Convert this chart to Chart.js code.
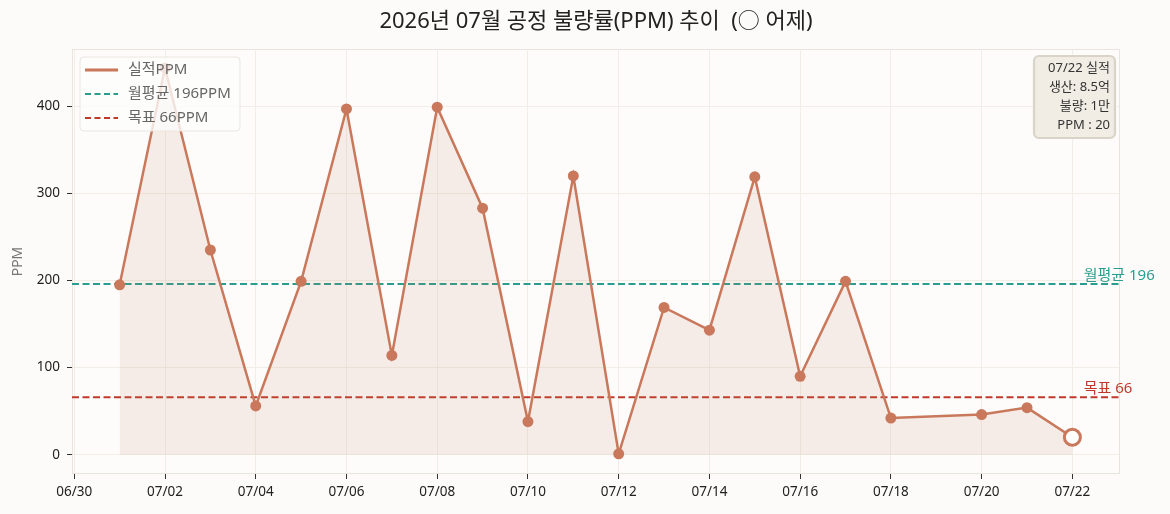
<html><head>
<meta charset="UTF-8">
<title>공정 불량률 추이</title>
<script src="https://cdn.jsdelivr.net/npm/chart.js"></script>
<style>
* { margin: 0; padding: 0; box-sizing: border-box; }
body { background: #fcfbf9; width: 1170px; height: 514px; overflow: hidden; }
#wrap { position: relative; width: 1170px; height: 514px; }
</style>
</head>
<body>
<div id="wrap"><canvas id="ppmChart" width="1170" height="514"></canvas></div>
<script>
// data
const dayLabels = ['07/01','07/02','07/03','07/04','07/05','07/06','07/07','07/08','07/09','07/10','07/11',
  '07/12','07/13','07/14','07/15','07/16','07/17','07/18','07/20','07/21','07/22'];
const ppmValues = [195, 444, 235, 56, 199, 397, 114, 399, 283, 38, 320, 1, 169, 143, 319, 90, 199, 42, 46, 54, 20];
const xTickLabels = ['06/30','07/02','07/04','07/06','07/08','07/10','07/12','07/14','07/16','07/18','07/20','07/22'];
const yTickValues = [0, 100, 200, 300, 400];
const monthAvg = 196;
const targetPpm = 66;
const noteLines = ['07/22 실적', '생산: 8.5억', '불량: 1만', 'PPM : 20'];
const titleText = '2026년 07월 공정 불량률(PPM) 추이  (○ 어제)';

const FONT = "'Noto Sans', 'Noto Sans CJK KR', sans-serif";
const C_LINE = '#c9785b';
const C_AVG = '#2a9d8f';
const C_TGT = '#c0392b';

function toDay(s) {
  const [m, d] = s.split('/').map(Number);
  return m === 6 ? d - 30 : d;
}

const X_MIN = -0.05, X_MAX = 23.05;
const lastIdx = ppmValues.length - 1;

const decor = {
  id: 'decor',
  beforeDraw(chart) {
    const { ctx, chartArea: a } = chart;
    ctx.save();
    ctx.fillStyle = '#fcfbf9';
    ctx.fillRect(0, 0, chart.width, chart.height);
    ctx.fillStyle = '#fdfcfb';
    ctx.fillRect(a.left, a.top, a.right - a.left, a.bottom - a.top);
    ctx.fillStyle = '#222';
    ctx.font = '22px ' + FONT;
    ctx.textAlign = 'center';
    ctx.textBaseline = 'middle';
    ctx.fillText(titleText, (a.left + a.right) / 2, 22);
    ctx.restore();
  },
  beforeDatasetsDraw(chart) {
    const { ctx, chartArea: a } = chart;
    ctx.save();
    ctx.strokeStyle = '#e9e5de';
    ctx.lineWidth = 1;
    ctx.strokeRect(a.left + 0.5, a.top + 0.5, a.right - a.left - 1, a.bottom - a.top - 1);
    ctx.restore();
  },
  afterDraw(chart) {
    const { ctx } = chart;
    const xs = chart.scales.x, ys = chart.scales.y;
    ctx.save();
    // right-side line labels
    ctx.font = '15px ' + FONT;
    ctx.textAlign = 'left';
    ctx.textBaseline = 'bottom';
    const lx = xs.getPixelForValue(22.25);
    ctx.fillStyle = C_AVG;
    ctx.fillText('월평균 ' + monthAvg, lx, ys.getPixelForValue(monthAvg) - 1);
    ctx.fillStyle = C_TGT;
    ctx.fillText('목표 ' + targetPpm, lx, ys.getPixelForValue(targetPpm) - 1);

    // legend box
    const lgX = 80, lgY = 57, lgW = 160, lgH = 74;
    ctx.beginPath();
    ctx.roundRect(lgX, lgY, lgW, lgH, 4);
    ctx.fillStyle = 'rgba(253,252,251,0.8)';
    ctx.fill();
    ctx.strokeStyle = '#ebe7e0';
    ctx.lineWidth = 1;
    ctx.stroke();
    const items = [
      { text: '실적PPM', color: C_LINE, dash: [] },
      { text: '월평균 ' + monthAvg + 'PPM', color: C_AVG, dash: [6, 3.5] },
      { text: '목표 ' + targetPpm + 'PPM', color: C_TGT, dash: [6, 3.5] }
    ];
    ctx.font = '15px ' + FONT;
    ctx.textBaseline = 'middle';
    items.forEach((it, i) => {
      const y = 70 + i * 24;
      ctx.beginPath();
      ctx.setLineDash(it.dash);
      ctx.strokeStyle = it.color;
      ctx.lineWidth = i === 0 ? 3 : 2.2;
      ctx.moveTo(85, y);
      ctx.lineTo(118, y);
      ctx.stroke();
      ctx.setLineDash([]);
      ctx.fillStyle = '#666';
      ctx.fillText(it.text, 128, y);
    });

    // note box
    ctx.beginPath();
    ctx.roundRect(1034, 56, 81, 82, 5);
    ctx.fillStyle = '#f1ece4';
    ctx.fill();
    ctx.strokeStyle = '#d9d3c8';
    ctx.stroke();
    ctx.fillStyle = '#333';
    ctx.font = '13px ' + FONT;
    ctx.textAlign = 'right';
    noteLines.forEach((t, i) => ctx.fillText(t, 1110, 68 + i * 19.2));
    ctx.restore();
  }
};

new Chart(document.getElementById('ppmChart'), {
  type: 'line',
  data: {
    datasets: [{
      label: '실적PPM',
      data: dayLabels.map((d, i) => ({ x: toDay(d), y: ppmValues[i] })),
      borderColor: C_LINE,
      backgroundColor: 'rgba(201,120,91,0.12)',
      borderWidth: 2.5,
      fill: { value: 0 },
      tension: 0,
      pointRadius: c => c.dataIndex === lastIdx ? 8 : 5.5,
      pointBackgroundColor: c => c.dataIndex === lastIdx ? '#ffffff' : C_LINE,
      pointBorderColor: C_LINE,
      pointBorderWidth: c => c.dataIndex === lastIdx ? 3 : 0,
      order: 1
    }, {
      label: '월평균',
      data: [{ x: X_MIN, y: monthAvg }, { x: X_MAX, y: monthAvg }],
      borderColor: C_AVG,
      borderWidth: 2,
      borderDash: [7, 3.5],
      pointRadius: 0,
      fill: false,
      order: 2
    }, {
      label: '목표',
      data: [{ x: X_MIN, y: targetPpm }, { x: X_MAX, y: targetPpm }],
      borderColor: C_TGT,
      borderWidth: 2,
      borderDash: [7, 3.5],
      pointRadius: 0,
      fill: false,
      order: 2
    }]
  },
  options: {
    responsive: false,
    animation: false,
    events: [],
    layout: { padding: { top: 49, right: 50, bottom: 0, left: 0 } },
    plugins: { legend: { display: false }, tooltip: { enabled: false }, title: { display: false } },
    scales: {
      x: {
        type: 'linear',
        min: X_MIN,
        max: X_MAX,
        afterBuildTicks: s => { s.ticks = xTickLabels.map(l => ({ value: toDay(l) })); },
        afterFit: s => { s.height = 40; },
        ticks: {
          callback: (v, i) => xTickLabels[i],
          color: '#222',
          font: { family: FONT, size: 13.5 },
          padding: 5,
          maxRotation: 0,
          autoSkip: false
        },
        grid: { color: '#f1ede7', tickColor: '#333', tickLength: 5 },
        border: { display: false }
      },
      y: {
        min: -22.2,
        max: 465.8,
        afterBuildTicks: s => { s.ticks = yTickValues.map(v => ({ value: v })); },
        afterFit: s => { s.width = 72; },
        ticks: {
          color: '#222',
          font: { family: FONT, size: 13.5 },
          padding: 7
        },
        title: {
          display: true,
          text: 'PPM',
          color: '#777',
          font: { family: FONT, size: 14 },
          padding: { top: 10, bottom: 0 }
        },
        grid: { color: '#f1ede7', tickColor: '#333', tickLength: 5 },
        border: { display: false }
      }
    }
  },
  plugins: [decor]
});
</script>
</body></html>
